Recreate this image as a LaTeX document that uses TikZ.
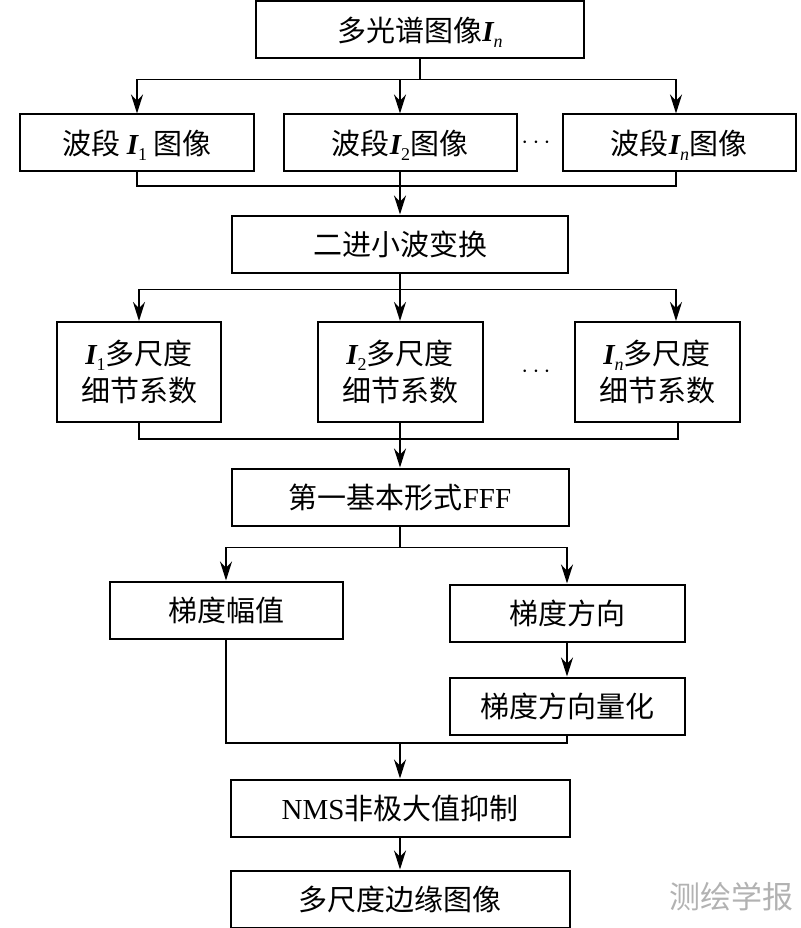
\documentclass[tikz,border=0pt]{standalone}
\usepackage{fontspec}
\setmainfont{Liberation Serif}
\newfontfamily\cjk{Noto Sans CJK SC}
\usetikzlibrary{arrows.meta,positioning}
\newcommand{\bandI}[1]{{\rmfamily\bfseries\itshape I}\raisebox{-0.22em}[0pt][0pt]{\rmfamily\fontsize{18}{18}\selectfont #1}}

\begin{document}
\begin{tikzpicture}[x=1pt,y=-1pt,
  box/.style={draw,line width=2pt,minimum height=57pt,inner sep=0pt,font=\fontsize{29}{37}\selectfont\cjk},
  arr/.style={line width=1.8pt,-{Stealth[length=19pt,width=12pt]}},
  link/.style={line width=1.8pt}]
  \useasboundingbox (0,0) rectangle (800,928);
  \node[box,minimum width=328pt](src) at (420,30) {多光谱图像\bandI{\itshape n}};
  \node[box,minimum width=234pt](band1) at (137,143) {波段 \bandI{1} 图像};
  \node[box,minimum width=233pt](band2) at (400,143) {波段\bandI{2}图像};
  \node[box,minimum width=233pt](bandn) at (679,143) {波段\bandI{\itshape n}图像};
  \node(dots1) at (536,143) {\fontsize{26}{26}\selectfont$\cdots$};
  \node[box,minimum width=336pt](dwt) at (400,244) {二进小波变换};
  \node[box,minimum width=164pt,minimum height=100pt,align=center](coef1) at (139,372) {\bandI{1}多尺度\\细节系数};
  \node[box,minimum width=165pt,minimum height=100pt,align=center](coef2) at (400,372) {\bandI{2}多尺度\\细节系数};
  \node[box,minimum width=165pt,minimum height=100pt,align=center](coefn) at (657,372) {\bandI{\itshape n}多尺度\\细节系数};
  \node(dots2) at (536,372) {\fontsize{26}{26}\selectfont$\cdots$};
  \node[box,minimum width=337pt](fff) at (400,497) {第一基本形式{\rmfamily FFF}};
  \node[box,minimum width=233pt](mag) at (226,610) {梯度幅值};
  \node[box,minimum width=235pt](dir) at (567,613) {梯度方向};
  \node[box,minimum width=235pt](quant) at (567,706) {梯度方向量化};
  \node[box,minimum width=339pt](nms) at (400,808) {{\rmfamily NMS}非极大值抑制};
  \node[box,minimum width=339pt](edge) at (400,899) {多尺度边缘图像};
  \node[font=\fontsize{31}{31}\selectfont\cjk,text=black!30](mark) at (731,897) {测绘学报};
  \coordinate (join1) at (400,186);
  \coordinate (join2) at (400,439);
  \coordinate (join3) at (400,743);
  \draw[arr] (src.south) -- ++(0,20) -| (band1.north);
  \draw[arr] (src.south) -- ++(0,20) -| (band2.north);
  \draw[arr] (src.south) -- ++(0,20) -| (bandn.north -| 676,0);
  \draw[link] (band1.south) |- (join1) -| (bandn.south -| 676,0);
  \draw[arr] (band2.south) -- (dwt.north);
  \draw[arr] (dwt.south) -- ++(0,16) -| (coef1.north);
  \draw[arr] (dwt.south) -- ++(0,16) -| (coef2.north);
  \draw[arr] (dwt.south) -- ++(0,16) -| (coefn.north -| 676,0);
  \draw[link] (coef1.south) |- (join2) -| (coefn.south -| 678,0);
  \draw[arr] (coef2.south) -- (fff.north);
  \draw[arr] (fff.south) -- ++(0,21) -| (mag.north);
  \draw[arr] (fff.south) -- ++(0,21) -| (dir.north);
  \draw[arr] (dir) -- (quant);
  \draw[link] (mag.south) |- (join3) -| (quant.south);
  \draw[arr] (join3) -- (nms);
  \draw[arr] (nms) -- (edge);
\end{tikzpicture}
\end{document}
